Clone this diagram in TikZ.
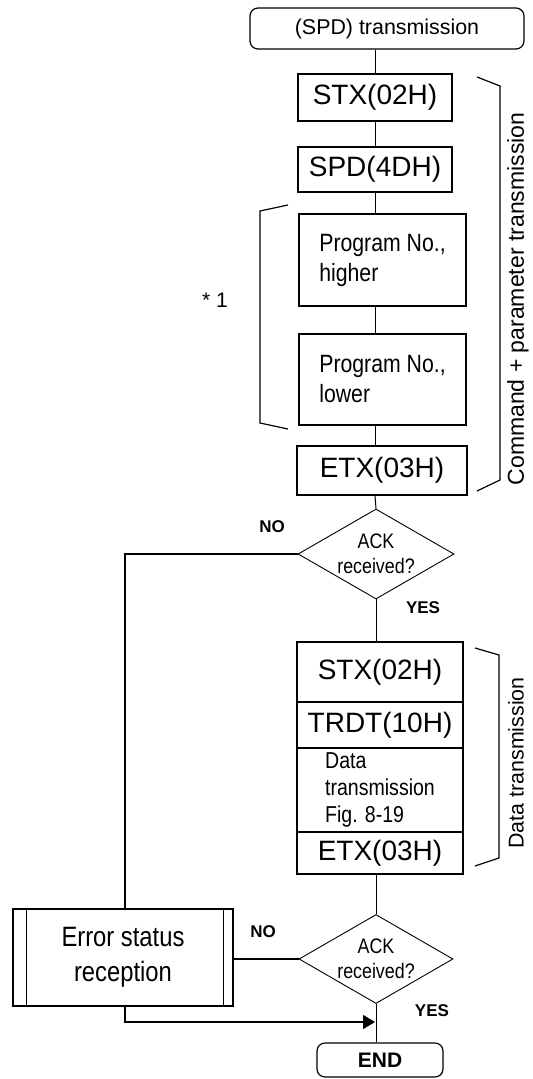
\documentclass[tikz,border=0pt]{standalone}
\usepackage{fontspec}
\setmainfont{Liberation Sans}
\newfontfamily\narrowfont[FakeStretch=0.85]{Liberation Sans}
\usepackage{tikz}
\usetikzlibrary{calc,shapes.geometric,arrows.meta}
\tikzset{
  % Boxes of the flowchart: plain steps, notes and the two end caps
  cmd box/.style={rectangle,draw,line width=0.6pt,inner sep=0pt,font=\fontsize{14}{16}\selectfont},
  note box/.style={rectangle,draw,line width=0.6pt,inner sep=0pt,align=left,font=\narrowfont\fontsize{12.5}{15}\selectfont},
  cap box/.style={rectangle,draw,line width=0.6pt,rounded corners=4pt,inner sep=0pt},
  check node/.style={diamond,draw,line width=0.45pt,aspect=1.73,inner sep=0pt,align=center,
    minimum width=78pt,minimum height=45pt,font=\narrowfont\fontsize{10.5}{12.5}\selectfont},
  branch label/.style={font=\bfseries\fontsize{8.5}{10}\selectfont},
  flow line/.style={line width=0.5pt},
  loop line/.style={line width=0.8pt}
}

\begin{document}
\begin{tikzpicture}[x=0.5pt,y=-0.5pt]
  \useasboundingbox (0,0) rectangle (533,1079);
  % Command part
  \node(start)[cap box,minimum width=137pt,minimum height=20.5pt,font=\fontsize{10.7}{12}\selectfont] at (387,28.5) {(SPD) transmission};
  \node(stx1)[cmd box,minimum width=77pt,minimum height=23.5pt] at (375,97.5) {STX(02H)};
  \node(spd)[cmd box,minimum width=77pt,minimum height=22.5pt] at (375,169.5) {SPD(4DH)};
  \node(prghi)[note box,minimum width=83.5pt,minimum height=46pt] at (382.5,260) {Program No.,\\higher};
  \node(prglo)[note box,minimum width=83.5pt,minimum height=45.5pt] at (382.5,379.5) {Program No.,\\lower};
  \node(etx1)[cmd box,minimum width=85pt,minimum height=24.5pt] at (382,470.5) {ETX(03H)};
  \node(ack1)[check node] at (376,554) {ACK\\received?};
  % Data part, four stacked cells
  \node(dstx)[cmd box,minimum width=83pt,minimum height=30pt] at (380,672) {STX(02H)};
  \node(dtrdt)[cmd box,minimum width=83pt,minimum height=23pt] at (380,725) {TRDT(10H)};
  \node(dbody)[note box,minimum width=83pt,minimum height=42pt,font=\narrowfont\fontsize{11.5}{13.5}\selectfont] at (380,790) {Data\\transmission\\Fig. 8-19};
  \node(detx)[cmd box,minimum width=83pt,minimum height=21pt] at (380,853) {ETX(03H)};
  \node(ack2)[check node,minimum width=77pt,minimum height=44.5pt] at (376,959) {ACK\\received?};
  \node(err)[cmd box,align=center,minimum width=110pt,minimum height=48.5pt,font=\narrowfont\fontsize{14}{17.5}\selectfont] at (123,957.5) {Error status\\reception};
  \node(end)[cap box,minimum width=63pt,minimum height=17pt,font=\bfseries\fontsize{10.5}{12}\selectfont] at (380,1060) {END};
  \coordinate (join) at (375,1022);
  % inner bars of the error box
  \draw[line width=0.6pt] ([xshift=7pt]err.north west) -- ([xshift=7pt]err.south west);
  \draw[line width=0.6pt] ([xshift=-5pt]err.north east) -- ([xshift=-5pt]err.south east);
  % main flow
  \draw[flow line] (start.south -| stx1) -- (stx1.north);
  \draw[flow line] (stx1) -- (spd);
  \draw[flow line] (spd.south) -- (spd.south |- prghi.north);
  \draw[flow line] (spd.south |- prghi.south) -- (spd.south |- prglo.north);
  \draw[flow line] (spd.south |- prglo.south) -- (spd.south |- etx1.north);
  \draw[flow line] (spd.south |- etx1.south) -- (ack1.north);
  \draw[flow line] (ack1.south) -- (ack1.south |- dstx.north);
  \draw[flow line] (ack1.south |- detx.south) -- (ack2.north);
  \draw[flow line] (ack2.south) -- (ack2.south |- end.north);
  % error branches
  \draw[loop line] (ack1.west) -| ([xshift=1pt]err.north);
  \draw[loop line] (ack2.west) -- (err.east |- ack2.west);
  \draw[loop line,-{Triangle[length=6pt,width=7pt]}] ([xshift=1pt]err.south) |- (join);
  % branch labels
  \node(no1)[branch label] at (272,527) {NO};
  \node(yes1)[branch label] at (423,608) {YES};
  \node(no2)[branch label] at (263,932) {NO};
  \node(yes2)[branch label] at (432,1011) {YES};
  % brackets
  \draw[line width=0.6pt] (477,77) -- (500,86) -- (500,480) -- (477,491);
  \node(cmdlabel)[rotate=90,font=\fontsize{11.5}{13}\selectfont] at (518,299) {Command + parameter transmission};
  \draw[line width=0.6pt] (288,205) -- (260,211) -- (260,423) -- (288,429);
  \node(star)[font=\fontsize{10.5}{12}\selectfont] at (215,300) {* 1};
  \draw[line width=0.6pt] (475,648) -- (499,655) -- (499,858) -- (475,866);
  \node(datalabel)[rotate=90,font=\fontsize{10.7}{12}\selectfont] at (516,763) {Data transmission};
\end{tikzpicture}
\end{document}
